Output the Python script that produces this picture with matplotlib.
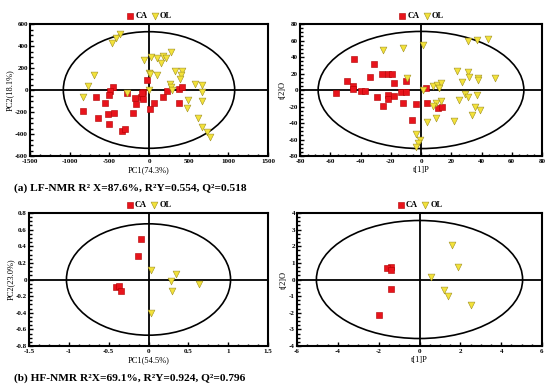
import matplotlib
matplotlib.use("Agg")
import matplotlib.pyplot as plt
from matplotlib.patches import Ellipse
from matplotlib.ticker import AutoMinorLocator

plt.rcParams['font.family'] = ['Liberation Serif', 'DejaVu Serif']

# (a) LF-NMR PCA scores
a1_ca_x = [-30, -460, -490, -510, -670, -550, -830, -640, -520, -440, -500, -340, -300,
           -280, -180, -160, -200, -100, -80, -75, -85, 10, 60, 180, 230, 380, 410, 375]
a1_ca_y = [90, 25, -5, -45, -60, -115, -190, -255, -215, -205, -310, -370, -355,
           -25, -75, -130, -210, -60, -15, -85, -30, -175, -120, -60, -10, 10, 25, -120]
a1_ol_x = [-370, -420, -470, -65, 23, 103, 145, 179, 220, 283, 2, 10, 95, 334, 422, 400,
           388, 267, 279, 296, -275, 2, -694, -766, -837, 577, 665, 674, 497, 480, 665,
           615, 674, 728, 766]
a1_ol_y = [505, 470, 430, 273, 303, 288, 250, 312, 294, 348, 158, 145, 136, 176, 173, 136,
           100, 52, 24, 0, -30, 3, 136, 36, -67, 52, 45, -18, -91, -167, -100,
           -257, -333, -382, -427]

# (a) LF-NMR OPLS-DA scores
a2_ca_x = [-44, -31, -49, -45, -45, -40, -37, -56, -34, -26, -22, -19, -18, -10, -29, -22,
           -22, -18, -13, -10, -25, -12, -3, -6, 3, 4, 11, 14]
a2_ca_y = [38, 32, 11, 5, 1, -1, -1, -4, 16, 19, 20, 20, 8, 11, -8, -6,
           -11, -7, -3, -3, -19, -16, -17, -36, 3, -16, -22, -21]
a2_ol_x = [-25, -12, 1, 31, 37, 44, -9, 1, 8, 10.5, 13.5, 12, 24, 31, 32, 27, 38, 38, 49,
           29, 31, 37, 25, 13, 10, 8, 36, 39, 34, 10, 22, 4, -3, -0.5, -2, -3]
a2_ol_y = [49, 51, 54, 59, 61, 62, 14, 0, 5, 6, 9, 2, 23, 22, 16, 10, 15, 12, 14,
           -5, -9, -6, -12, -13, -16, -19, -20, -24, -30, -34, -38, -39, -53, -60, -64, -69]

# (b) HF-NMR PCA scores
b1_ca_x = [-0.1, -0.13, -0.41, -0.37, -0.34]
b1_ca_y = [0.49, 0.28, -0.095, -0.08, -0.14]
b1_ol_x = [0.03, 0.35, 0.28, 0.63, 0.29, 0.03]
b1_ol_y = [0.12, 0.07, -0.02, -0.05, -0.14, -0.40]

# (b) HF-NMR OPLS-DA scores
b2_ca_x = [-1.4, -1.6, -1.4, -1.4, -2.0]
b2_ca_y = [0.75, 0.7, 0.6, -0.6, -2.15]
b2_ol_x = [1.6, 1.9, 0.55, 1.2, 1.4, 2.5]
b2_ol_y = [2.1, 0.75, 0.15, -0.65, -0.98, -1.55]

captions = ["(a) LF-NMR R\u00b2 X=87.6%, R\u00b2Y=0.554, Q\u00b2=0.518",
            "(b) HF-NMR R\u00b2X=69.1%, R\u00b2Y=0.924, Q\u00b2=0.796"]

fig = plt.figure(figsize=(5.5, 3.87), dpi=100)
W, H = 550, 387


def make_ax(l, t, r, b):
    return fig.add_axes([l / W, 1 - b / H, (r - l) / W, (b - t) / H])


def panel(ax, cax, cay, olx, oly, lim, ticks, ell, xlabel, ylabel, fmt):
    ax.add_patch(Ellipse((0, 0), 2 * ell[0], 2 * ell[1], fill=False, ec='black', lw=1.2, zorder=2))
    ax.axhline(0, color='black', lw=1.3, zorder=1)
    ax.axvline(0, color='black', lw=1.3, zorder=1)
    ax.scatter(cax, cay, marker='s', s=24, c='#e8141c', edgecolors='#b00000', linewidths=0.4, zorder=3)
    ax.scatter(olx, oly, marker='v', s=24, c='#f3e23a', edgecolors='#a09020', linewidths=0.4, zorder=3)
    ax.set_xlim(lim[0], lim[1])
    ax.set_ylim(lim[2], lim[3])
    ax.set_xticks(ticks[0])
    ax.set_yticks(ticks[1])
    ax.set_xticklabels([fmt(v) for v in ticks[0]])
    ax.set_yticklabels([fmt(v) for v in ticks[1]])
    ax.xaxis.set_minor_locator(AutoMinorLocator(4))
    ax.yaxis.set_minor_locator(AutoMinorLocator(4))
    ax.tick_params(which='both', direction='in', top=False, right=False,
                   labelsize=5, width=1)
    ax.tick_params(axis='x', pad=2.5)
    ax.tick_params(axis='y', pad=1.5)
    ax.tick_params(which='major', length=3)
    ax.tick_params(which='minor', length=1.8)
    for lab in ax.get_xticklabels() + ax.get_yticklabels():
        lab.set_fontweight('bold')
    for sp in ax.spines.values():
        sp.set_linewidth(1.5)
    ax.set_xlabel(xlabel, fontsize=6, labelpad=1)
    ax.set_ylabel(ylabel, fontsize=6, labelpad=1)


def fmt_int(v):
    return str(int(round(v)))


def fmt_f(v):
    return '%g' % round(v, 2)


ax1 = make_ax(30, 24, 268, 156)
panel(ax1, a1_ca_x, a1_ca_y, a1_ol_x, a1_ol_y, (-1500, 1500, -600, 600),
      ([-1500, -1000, -500, 0, 500, 1000, 1500], [-600, -400, -200, 0, 200, 400, 600]),
      (1080, 530), 'PC1(74.3%)', 'PC2(18.1%)', fmt_int)

ax2 = make_ax(300, 24, 542, 156)
panel(ax2, a2_ca_x, a2_ca_y, a2_ol_x, a2_ol_y, (-80, 80, -80, 80),
      (list(range(-80, 81, 20)), list(range(-80, 81, 20))),
      (68, 71), 't[1]P', 't[2]O', fmt_int)

ax3 = make_ax(29, 213, 268, 346)
panel(ax3, b1_ca_x, b1_ca_y, b1_ol_x, b1_ol_y, (-1.5, 1.5, -0.8, 0.8),
      ([-1.5, -1, -0.5, 0, 0.5, 1, 1.5], [-0.8, -0.6, -0.4, -0.2, 0, 0.2, 0.4, 0.6, 0.8]),
      (1.03, 0.67), 'PC1(54.5%)', 'PC2(23.0%)', fmt_f)

ax4 = make_ax(297, 213, 542, 346)
panel(ax4, b2_ca_x, b2_ca_y, b2_ol_x, b2_ol_y, (-6, 6, -4, 4),
      (list(range(-6, 7, 2)), list(range(-4, 5, 1))),
      (5.05, 3.55), 't[1]P', 't[2]O', fmt_int)

# legends above each panel
for ax in (ax1, ax2, ax3, ax4):
    h1 = ax.scatter([], [], marker='s', s=24, c='#e8141c', edgecolors='#b00000', linewidths=0.4)
    h2 = ax.scatter([], [], marker='v', s=24, c='#f3e23a', edgecolors='#a09020', linewidths=0.4)
    ax.legend([h1, h2], ['CA', 'OL'], ncol=2, loc='lower center', bbox_to_anchor=(0.5, 1.0),
              frameon=False, prop={'weight': 'bold', 'size': 6},
              handletextpad=0.1, columnspacing=0.4, borderaxespad=0.1, handlelength=1)

fig.text(14 / W, 1 - 188 / H, captions[0], fontsize=8.2, fontweight='bold', va='center', ha='left')
fig.text(14 / W, 1 - 378 / H, captions[1], fontsize=8.2, fontweight='bold', va='center', ha='left')

fig.savefig('out.png', dpi=100)
